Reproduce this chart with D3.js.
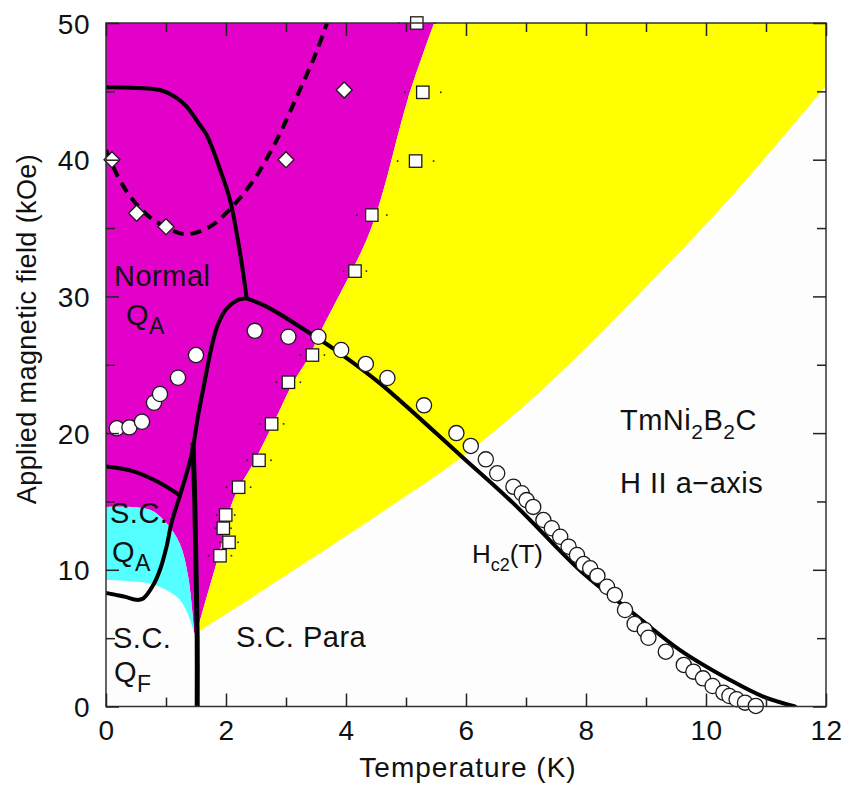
<!DOCTYPE html>
<html>
<head>
<meta charset="utf-8">
<script src="https://cdn.jsdelivr.net/npm/d3@7"></script>
<style>
  html, body { margin: 0; padding: 0; background: #ffffff; }
  svg { display: block; }
  text { font-family: "Liberation Sans", Arial, sans-serif; fill: #111; }
</style>
</head>
<body>
<svg id="chart" width="844" height="788"></svg>
<script>
// ---- data: TmNi2B2C, H parallel to a-axis (T in K, H in kOe) ----
const xTicksMajor = [0, 2, 4, 6, 8, 10, 12];
const xTicksMinor = [1, 3, 5, 7, 9, 11];
const yTicksMajor = [0, 10, 20, 30, 40, 50];
const yTicksMinor = [5, 15, 25, 35, 45];

// open circles: Hc2 points
const circleT = [0.18, 0.39, 0.6, 0.8, 0.9, 1.2, 1.5, 2.48, 3.04, 3.54, 3.92, 4.33, 4.69, 5.3, 5.84,
  6.08, 6.33, 6.52, 6.79, 6.93, 7.01, 7.12, 7.29, 7.43, 7.57, 7.71, 7.85, 7.96, 8.07, 8.19,
  8.35, 8.48, 8.65, 8.81, 8.98, 9.04, 9.33, 9.63, 9.79, 9.95, 10.11, 10.29, 10.39, 10.51, 10.65, 10.83];
const circleH = [20.35, 20.42, 20.83, 22.22, 22.86, 24.05, 25.71, 27.48, 27.05, 27.05, 26.08, 25.06, 24.03, 22.03, 20.0,
  19.06, 18.08, 17.06, 16.08, 15.6, 15.1, 14.6, 13.64, 13.04, 12.42, 11.69, 11.08, 10.42, 10.11, 9.55,
  8.76, 8.16, 7.06, 6.04, 5.6, 5.03, 4.01, 3.04, 2.55, 2.06, 1.5, 1.01, 0.77, 0.53, 0.28, 0.04];

// open squares with temperature error bars
const squareT = [5.18, 5.28, 5.16, 4.43, 4.15, 3.44, 3.04, 2.76, 2.55, 2.21, 1.995, 1.955, 2.05, 1.9];
const squareH = [50.0, 44.93, 39.9, 35.95, 31.85, 25.71, 23.72, 20.67, 18.01, 16.04, 14.01, 13.04, 12.01, 11.03];
const squareErr = [0.3, 0.3, 0.3, 0.25, 0.19, 0.2, 0.2, 0.2, 0.2, 0.2, 0.15, 0.13, 0.15, 0.19];

// open diamonds
const diamondT = [0.1, 0.51, 1.0, 3.0, 3.97];
const diamondH = [40.0, 36.08, 35.1, 40.0, 45.1];

// phase boundaries (solid lines)
const upperBoundary = [[0, 45.3], [0.5, 45.25], [0.9, 45.1], [1.15, 44.6], [1.34, 43.9], [1.57, 42.5],
  [1.68, 41.8], [1.9, 39.3], [2.07, 37.0], [2.23, 33.3], [2.345, 29.86]];
const hc2Line = [[2.345, 29.86], [2.678, 29.25], [3.4, 27.3], [3.9, 25.84], [4.567, 23.64], [5.955, 18.18],
  [6.79, 14.86], [7.955, 9.74], [8.788, 6.82], [9.567, 4.13], [10.4, 1.94], [10.955, 0.72], [11.483, 0]];
const scBoundary = [[2.345, 29.86], [2.18, 29.7], [2.01, 29.1], [1.87, 28.0], [1.76, 26.3], [1.65, 23.9],
  [1.54, 21.4], [1.43, 18.5], [1.34, 17.0], [1.23, 15.4], [1.09, 13.4], [1.01, 11.7], [0.9, 10.0],
  [0.79, 8.9], [0.62, 7.9], [0.51, 7.8], [0.34, 8.0], [0.18, 8.15], [0, 8.3]];
const qaBoundary = [[0, 17.55], [0.46, 17.2], [0.9, 16.35], [1.23, 15.45]];
const paraBoundary = [[1.52, -0.2], [1.52, 5], [1.5, 10], [1.48, 15], [1.45, 19.3]];
// dashed line through the diamonds
const dashedLine = [[0, 40.7], [0.23, 38.5], [0.46, 37.0], [0.79, 35.6], [1.32, 34.56], [1.73, 35.1],
  [2.07, 36.4], [2.46, 38.5], [2.84, 41.4], [3.23, 45.1], [3.5, 47.8], [3.7, 50.2]];

// coloured region edges
const cyanTop = [[0, 14.6], [0.73, 14.4], [1.01, 13.4], [1.23, 11.9], [1.37, 9.5], [1.47, 5.4]];
const qfTop = [[0, 9.25], [0.73, 9.0], [1.01, 8.5], [1.23, 7.8], [1.36, 6.8], [1.47, 5.4]];
const yellowLeft = [[1.51, 5.4], [1.71, 8.5], [1.9, 11.4], [2.12, 15.1], [2.48, 18.0], [2.79, 20.7],
  [3.12, 23.7], [3.4, 25.7], [3.53, 27.0], [4.34, 34.1], [4.58, 37.1], [5.03, 44.4], [5.47, 50]];
const yellowLow = [[1.51, 5.4], [3.0, 9.6], [4.9, 15.1], [5.95, 18.3], [7.3, 23.3], [8.78, 29.7],
  [10.4, 37.2], [12, 45.4]];

// ---- layout ----
const svg = d3.select("#chart");
const x = d3.scaleLinear().domain([0, 12]).range([106, 826]);
const y = d3.scaleLinear().domain([0, 50]).range([706.5, 23]);

const MAGENTA = "#e300c8", YELLOW = "#ffff00", CYAN = "#55ffff", PAPER = "#fdfdfd";
const LABEL_SIZE = 29;

svg.append("defs").append("clipPath").attr("id", "plotClip")
  .append("rect").attr("x", x(0)).attr("y", y(50))
  .attr("width", x(12) - x(0)).attr("height", y(0) - y(50));

const smooth = d3.line().x(d => x(d[0])).y(d => y(d[1])).curve(d3.curveCatmullRom.alpha(0.5));
const straight = d3.line().x(d => x(d[0])).y(d => y(d[1]));
// joins several path pieces into one outline
function joinPieces(pieces) {
  return pieces.map((p, i) => i === 0 ? p : "L" + p.slice(1)).join("") + "Z";
}

const regions = svg.append("g").attr("clip-path", "url(#plotClip)");
regions.append("rect").attr("x", x(0)).attr("y", y(50))
  .attr("width", x(12) - x(0)).attr("height", y(0) - y(50)).attr("fill", PAPER);

// Normal Q_A phase (magenta)
regions.append("path").attr("fill", MAGENTA).attr("d", joinPieces([
  straight([[0, 50], [0, 14.6]]),
  smooth(cyanTop),
  smooth(yellowLeft),
  straight([[5.47, 50], [0, 50]])
]));
// paramagnetic normal state (yellow)
regions.append("path").attr("fill", YELLOW).attr("d", joinPieces([
  smooth(yellowLeft),
  straight([[5.47, 50], [12, 50], [12, 45.4]]),
  smooth(yellowLow.slice().reverse())
]));
// superconducting Q_A (cyan)
regions.append("path").attr("fill", CYAN).attr("d", joinPieces([
  smooth(cyanTop),
  smooth(qfTop.slice().reverse())
]));

// ---- boundary lines ----
const lines = svg.append("g").attr("clip-path", "url(#plotClip)")
  .attr("fill", "none").attr("stroke", "#000").attr("stroke-linejoin", "round").attr("stroke-linecap", "round");
lines.append("path").attr("d", smooth(upperBoundary)).attr("stroke-width", 4);
lines.append("path").attr("d", smooth(hc2Line)).attr("stroke-width", 4);
lines.append("path").attr("d", smooth(scBoundary)).attr("stroke-width", 4);
lines.append("path").attr("d", smooth(qaBoundary)).attr("stroke-width", 4);
lines.append("path").attr("d", smooth(paraBoundary)).attr("stroke-width", 5).attr("stroke-linecap", "butt");
lines.append("path").attr("d", smooth(dashedLine)).attr("stroke-width", 4)
  .attr("stroke-linecap", "butt").attr("stroke-dasharray", "11,7");

// ---- labels inside the plot ----
const labels = svg.append("g").style("font-size", LABEL_SIZE + "px").attr("letter-spacing", "0.5");
function subLabel(px, py, main, sub, subSize, subDy) {
  const t = labels.append("text").attr("x", px).attr("y", py);
  t.append("tspan").text(main);
  t.append("tspan").attr("dy", subDy).style("font-size", subSize + "px").text(sub);
  return t;
}
labels.append("text").attr("x", 114).attr("y", 286).text("Normal");
subLabel(126, 325, "Q", "A", 23, 9);
labels.append("text").attr("x", 110).attr("y", 523).text("S.C.");
subLabel(112, 562, "Q", "A", 23, 9);
labels.append("text").attr("x", 113).attr("y", 648).text("S.C.");
subLabel(114, 682, "Q", "F", 23, 10);
labels.append("text").attr("x", 236).attr("y", 647).text("S.C. Para");

const formula = labels.append("text").attr("x", 620).attr("y", 430);
formula.append("tspan").text("TmNi");
formula.append("tspan").attr("dy", 9).style("font-size", "21px").text("2");
formula.append("tspan").attr("dy", -9).text("B");
formula.append("tspan").attr("dy", 9).style("font-size", "21px").text("2");
formula.append("tspan").attr("dy", -9).text("C");
labels.append("text").attr("x", 620).attr("y", 493).text("H II a\u2212axis");

const hc2 = labels.append("text").attr("x", 472).attr("y", 563).style("font-size", "26px").attr("letter-spacing", "0");
hc2.append("tspan").text("H");
hc2.append("tspan").attr("dy", 8).style("font-size", "18px").text("c2");
hc2.append("tspan").attr("dy", -8).text("(T)");

// ---- data markers ----
// error-bar end dots for the squares
const errDots = svg.append("g").attr("fill", "#222");
squareT.forEach((t, i) => {
  [t - squareErr[i], t + squareErr[i]].forEach(v => {
    errDots.append("rect").attr("x", x(v) - 0.8).attr("y", y(squareH[i]) - 0.8)
      .attr("width", 1.6).attr("height", 1.6);
  });
});

const marks = svg.append("g").attr("fill", "#fff").attr("stroke", "#1a1a1a").attr("stroke-width", 1.3);
marks.selectAll("path.diamond").data(diamondT).join("path").attr("class", "diamond")
  .attr("d", (t, i) => {
    const cx = x(t), cy = y(diamondH[i]), r = 8;
    return `M${cx},${cy - r}L${cx + r},${cy}L${cx},${cy + r}L${cx - r},${cy}Z`;
  });
marks.selectAll("rect.square").data(squareT).join("rect").attr("class", "square")
  .attr("x", t => x(t) - 6.2).attr("y", (t, i) => y(squareH[i]) - 6.2)
  .attr("width", 12.4).attr("height", 12.4);
marks.selectAll("circle").data(circleT).join("circle")
  .attr("cx", t => x(t)).attr("cy", (t, i) => y(circleH[i])).attr("r", 7.6);

// ---- axes: frame with inward ticks on all four sides ----
const axes = svg.append("g");
axes.append("rect").attr("x", x(0)).attr("y", y(50))
  .attr("width", x(12) - x(0)).attr("height", y(0) - y(50))
  .attr("fill", "none").attr("stroke", "#333").attr("stroke-width", 1.5);

function tickAxis(gen, values, size, transform, labelled) {
  const g = axes.append("g").attr("transform", transform)
    .call(gen.tickValues(values).tickSize(-size).tickPadding(size + 6)
      .tickFormat(labelled ? d3.format("d") : ""));
  g.select(".domain").remove();
  g.selectAll(".tick line").attr("stroke", "#222").attr("stroke-width", 1.5);
  g.selectAll(".tick text").style("font-size", "28px").attr("letter-spacing", "0.5")
    .style("font-family", "'Liberation Sans', Arial, sans-serif").attr("fill", "#111");
  return g;
}
tickAxis(d3.axisBottom(x), xTicksMajor, 13, `translate(0,${y(0)})`, true)
  .selectAll(".tick text").attr("dy", null).attr("y", 33);
tickAxis(d3.axisBottom(x), xTicksMinor, 9, `translate(0,${y(0)})`, false);
tickAxis(d3.axisTop(x), xTicksMajor, 13, `translate(0,${y(50)})`, false);
tickAxis(d3.axisTop(x), xTicksMinor, 9, `translate(0,${y(50)})`, false);
tickAxis(d3.axisLeft(y), yTicksMajor, 13, `translate(${x(0)},0)`, true)
  .selectAll(".tick text").attr("x", -16).attr("dy", "0.36em");
tickAxis(d3.axisLeft(y), yTicksMinor, 9, `translate(${x(0)},0)`, false);
tickAxis(d3.axisRight(y), yTicksMajor, 13, `translate(${x(12)},0)`, false);
tickAxis(d3.axisRight(y), yTicksMinor, 9, `translate(${x(12)},0)`, false);

// axis titles
svg.append("text").attr("x", (x(0) + x(12)) / 2 + 2).attr("y", 777)
  .attr("text-anchor", "middle").style("font-size", "28px").attr("letter-spacing", "1")
  .text("Temperature (K)");
svg.append("text").attr("transform", `translate(36,${329}) rotate(-90)`)
  .attr("text-anchor", "middle").style("font-size", "27px").attr("letter-spacing", "0.4")
  .text("Applied magnetic field (kOe)");
</script>
</body>
</html>
